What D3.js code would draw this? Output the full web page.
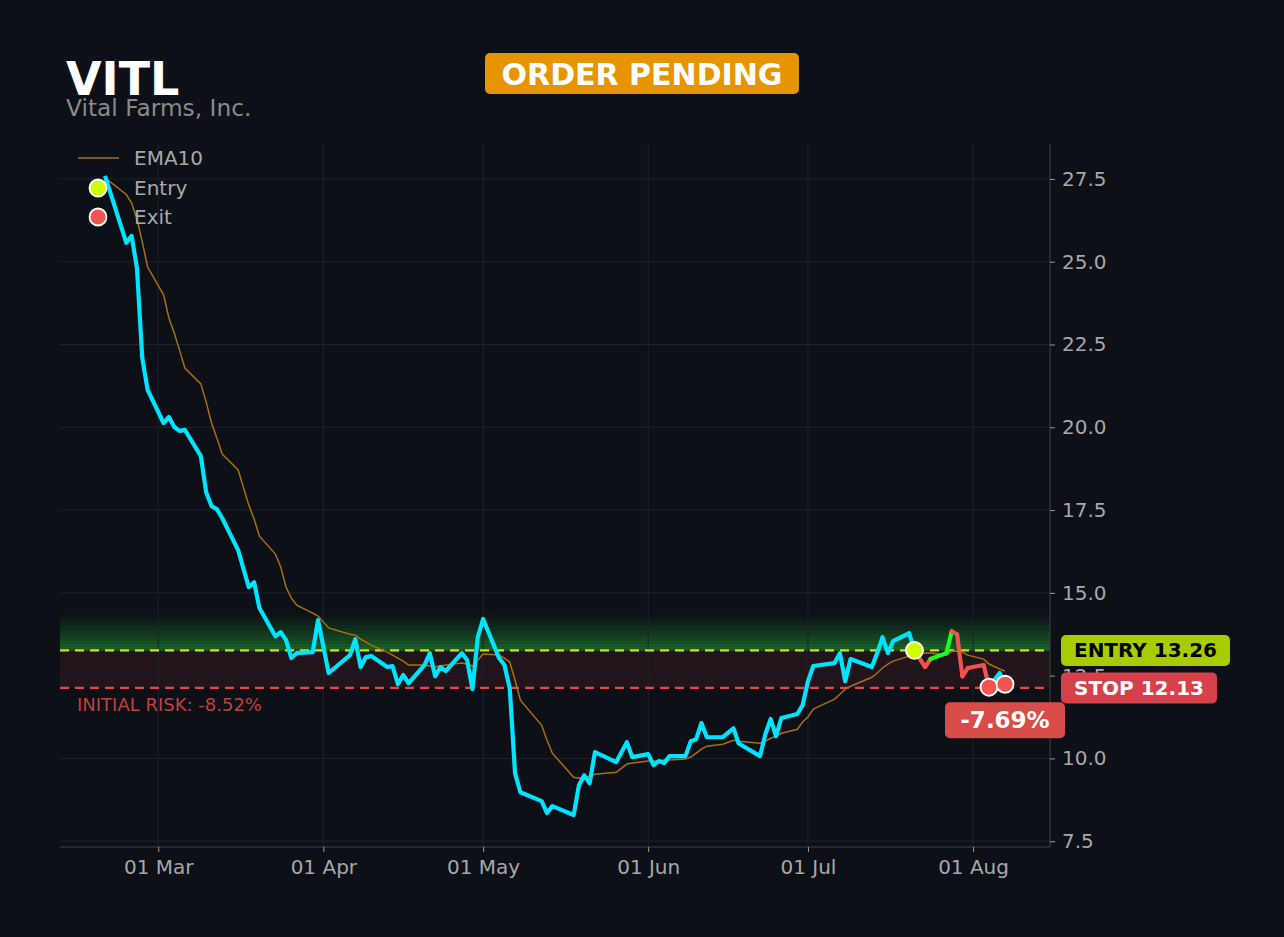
<!DOCTYPE html>
<html>
<head>
<meta charset="utf-8">
<script src="https://cdn.jsdelivr.net/npm/d3@7.9.0/dist/d3.min.js"></script>
<style>
  html, body { margin: 0; background: #0d1017; }
  svg { display: block; font-family: "DejaVu Sans", sans-serif; }
</style>
</head>
<body>
<svg id="chart" width="1284" height="937"></svg>
<script>
// Price data (daily closes)
const dates = [
  '2025-02-19','2025-02-23','2025-02-24','2025-02-25','2025-02-26','2025-02-27',
  '2025-03-02','2025-03-03','2025-03-04','2025-03-05','2025-03-06','2025-03-09','2025-03-10',
  '2025-03-11','2025-03-12','2025-03-13','2025-03-16','2025-03-18','2025-03-19','2025-03-20',
  '2025-03-23','2025-03-24','2025-03-25','2025-03-26','2025-03-27','2025-03-30','2025-03-31',
  '2025-04-02','2025-04-06','2025-04-07','2025-04-08','2025-04-09','2025-04-10','2025-04-13',
  '2025-04-14','2025-04-15','2025-04-16','2025-04-17','2025-04-20','2025-04-21','2025-04-22',
  '2025-04-23','2025-04-24','2025-04-27','2025-04-28','2025-04-29','2025-04-30',
  '2025-05-01','2025-05-04','2025-05-05','2025-05-06','2025-05-07','2025-05-08','2025-05-12',
  '2025-05-13','2025-05-14','2025-05-18','2025-05-19','2025-05-20','2025-05-21','2025-05-22',
  '2025-05-26','2025-05-28','2025-05-29',
  '2025-06-01','2025-06-02','2025-06-03','2025-06-04','2025-06-05','2025-06-08','2025-06-09',
  '2025-06-10','2025-06-11','2025-06-12','2025-06-15','2025-06-17','2025-06-18','2025-06-22',
  '2025-06-23','2025-06-24','2025-06-25','2025-06-26','2025-06-29','2025-06-30',
  '2025-07-01','2025-07-02','2025-07-06','2025-07-07','2025-07-08','2025-07-09','2025-07-13',
  '2025-07-14','2025-07-15','2025-07-16','2025-07-17','2025-07-20','2025-07-21','2025-07-23',
  '2025-07-24','2025-07-27','2025-07-28','2025-07-29','2025-07-30','2025-07-31',
  '2025-08-03','2025-08-04','2025-08-06','2025-08-07'
];
const closes = [
  27.59, 25.57, 25.78, 24.81, 22.09, 21.13, 20.13, 20.31, 20.01, 19.89,
  19.92, 19.13, 18.04, 17.62, 17.53, 17.26, 16.29, 15.17, 15.32, 14.54,
  13.69, 13.81, 13.57, 13.03, 13.18, 13.21, 14.18, 12.58, 13.12, 13.60,
  12.76, 13.06, 13.09, 12.76, 12.79, 12.24, 12.52, 12.27, 12.82, 13.18,
  12.48, 12.76, 12.64, 13.18, 12.97, 12.09, 13.66, 14.21, 13.03, 12.82,
  12.12, 9.55, 8.98, 8.71, 8.35, 8.56, 8.29, 9.19, 9.49, 9.25,
  10.19, 9.89, 10.49, 10.04, 10.13, 9.80, 9.92, 9.86, 10.07, 10.07,
  10.52, 10.58, 11.07, 10.64, 10.64, 10.91, 10.45, 10.07, 10.73, 11.19,
  10.67, 11.22, 11.34, 11.61, 12.33, 12.79, 12.88, 13.18, 12.33, 13.00,
  12.76, 13.18, 13.66, 13.18, 13.54, 13.78, 13.26, 12.76, 13.00, 13.18,
  13.84, 13.75, 12.48, 12.73, 12.82, 12.15, 12.58, 12.24
];
const ema10 = [
  27.53, 27.03, 26.77, 26.29, 25.60, 24.84, 24.00, 23.30, 22.85, 22.33,
  21.79, 21.31, 20.76, 20.13, 19.68, 19.19, 18.71, 17.65, 17.23, 16.71,
  16.17, 15.78, 15.17, 14.84, 14.63, 14.39, 14.30, 13.94, 13.75, 13.72,
  13.60, 13.51, 13.42, 13.21, 13.12, 13.03, 12.94, 12.82, 12.82, 12.79,
  12.76, 12.79, 12.82, 12.88, 12.85, 12.79, 12.97, 13.15, 13.12, 13.03,
  12.91, 12.36, 11.76, 11.00, 10.55, 10.16, 9.43, 9.40, 9.43, 9.46,
  9.52, 9.58, 9.83, 9.86, 9.92, 9.92, 9.92, 9.95, 9.95, 9.98,
  10.04, 10.16, 10.28, 10.37, 10.43, 10.55, 10.52, 10.46, 10.52, 10.61,
  10.67, 10.76, 10.88, 11.10, 11.25, 11.49, 11.79, 11.94, 12.09, 12.18,
  12.45, 12.58, 12.73, 12.85, 12.94, 13.09, 13.15, 13.18, 13.18, 13.12,
  13.24, 13.24, 13.21, 13.12, 13.00, 12.85, 12.70, 12.64
];

// Trade info
const ticker = 'VITL';
const company = 'Vital Farms, Inc.';
const status = 'ORDER PENDING';
const entryPrice = 13.26;
const stopPrice = 12.13;
const bandTop = 14.42;
const entryIndex = 96;
const exitIndices = [105, 107];
// state of each leg between entry and first exit
const tradeLegs = ['loss', 'loss', 'gain', 'gain', 'loss', 'loss', 'loss', 'loss', 'loss'];

const parseDate = d3.timeParse('%Y-%m-%d');
const data = dates.map((d, i) => ({ date: parseDate(d), close: closes[i], ema: ema10[i] }));

// Layout
const plot = { left: 60, right: 1050, top: 144, bottom: 847 };
const svg = d3.select('#chart');

svg.append('rect').attr('width', 1284).attr('height', 937).attr('fill', '#0d1017');

// Scales, 5% padding like the original
const xExt = d3.extent(data, (d) => d.date);
const xPad = (xExt[1] - xExt[0]) * 0.05;
const x = d3.scaleTime()
  .domain([new Date(+xExt[0] - xPad), new Date(+xExt[1] + xPad)])
  .range([plot.left, plot.right]);

const yExt = d3.extent(closes);
const yPad = (yExt[1] - yExt[0]) * 0.05;
const y = d3.scaleLinear()
  .domain([yExt[0] - yPad, yExt[1] + yPad])
  .range([plot.bottom, plot.top]);

const yTicks = d3.range(7.5, 27.6, 2.5);
const xTicks = d3.timeMonth.range(d3.timeMonth.ceil(x.domain()[0]), x.domain()[1]);

// Risk band (stop -> entry)
svg.append('rect')
  .attr('x', plot.left).attr('width', plot.right - plot.left)
  .attr('y', y(entryPrice)).attr('height', y(stopPrice) - y(entryPrice))
  .attr('fill', '#dc3c3c').attr('opacity', 0.1);

// Green glow above entry, stepped
const steps = 12;
const stepH = (bandTop - entryPrice) / steps;
d3.range(steps).forEach((i) => {
  const lo = entryPrice + i * stepH;
  svg.append('rect')
    .attr('x', plot.left).attr('width', plot.right - plot.left)
    .attr('y', y(lo + stepH)).attr('height', y(lo) - y(lo + stepH) + 0.3)
    .attr('fill', '#27c43a')
    .attr('opacity', 0.42 * (1 - i / steps) ** 1.3);
});

// Grid
const grid = svg.append('g').attr('stroke', '#1e2229').attr('stroke-width', 1);
yTicks.forEach((t) => {
  grid.append('line').attr('x1', plot.left).attr('x2', plot.right)
    .attr('y1', y(t)).attr('y2', y(t));
});
xTicks.forEach((t) => {
  grid.append('line').attr('x1', x(t)).attr('x2', x(t))
    .attr('y1', plot.top).attr('y2', plot.bottom);
});

// Entry / stop lines
svg.append('line')
  .attr('x1', plot.left).attr('x2', plot.right)
  .attr('y1', y(entryPrice)).attr('y2', y(entryPrice))
  .attr('stroke', '#c8e600').attr('stroke-width', 2.2).attr('stroke-dasharray', '9,6');
svg.append('line')
  .attr('x1', plot.left).attr('x2', plot.right)
  .attr('y1', y(stopPrice)).attr('y2', y(stopPrice))
  .attr('stroke', '#e0474a').attr('stroke-width', 2.2).attr('stroke-dasharray', '9,6');

// EMA line
const emaLine = d3.line().x((d) => x(d.date)).y((d) => y(d.ema));
svg.append('path').datum(data)
  .attr('d', emaLine)
  .attr('fill', 'none').attr('stroke', '#a8700e').attr('stroke-width', 1.5);

// Price line
const priceLine = d3.line().x((d) => x(d.date)).y((d) => y(d.close));
const firstExit = exitIndices[0];
svg.append('path').datum(data.slice(0, entryIndex + 1))
  .attr('d', priceLine)
  .attr('fill', 'none').attr('stroke', '#00e5ff').attr('stroke-width', 4.2)
  .attr('stroke-linejoin', 'round');
svg.append('path').datum(data.slice(firstExit))
  .attr('d', priceLine)
  .attr('fill', 'none').attr('stroke', '#00e5ff').attr('stroke-width', 4.2)
  .attr('stroke-linejoin', 'round');

const legColor = d3.scaleOrdinal().domain(['gain', 'loss']).range(['#1aff1a', '#ef5350']);
tradeLegs.forEach((state, i) => {
  const seg = data.slice(entryIndex + i, entryIndex + i + 2);
  svg.append('path').datum(seg)
    .attr('d', priceLine)
    .attr('fill', 'none').attr('stroke', legColor(state)).attr('stroke-width', 4.2)
    .attr('stroke-linecap', 'round');
});

// Markers
svg.append('circle')
  .attr('cx', x(data[entryIndex].date)).attr('cy', y(data[entryIndex].close))
  .attr('r', 8.5).attr('fill', '#ccff00').attr('stroke', '#fff').attr('stroke-width', 1.8);
exitIndices.forEach((idx) => {
  svg.append('circle')
    .attr('cx', x(data[idx].date)).attr('cy', y(data[idx].close))
    .attr('r', 8.5).attr('fill', '#f0564f').attr('stroke', '#fff').attr('stroke-width', 1.8);
});

// Spines
svg.append('line').attr('x1', plot.right).attr('x2', plot.right)
  .attr('y1', plot.top).attr('y2', plot.bottom).attr('stroke', '#3d4048');
svg.append('line').attr('x1', plot.left).attr('x2', plot.right)
  .attr('y1', plot.bottom).attr('y2', plot.bottom).attr('stroke', '#3d4048');

// Axes
const yAxis = d3.axisRight(y).tickValues(yTicks).tickFormat(d3.format('.1f'))
  .tickSize(5).tickPadding(7);
const gy = svg.append('g').attr('transform', `translate(${plot.right},0)`).call(yAxis);
const xAxis = d3.axisBottom(x).tickValues(xTicks).tickFormat(d3.timeFormat('%d %b'))
  .tickSize(5).tickPadding(8);
const gx = svg.append('g').attr('transform', `translate(0,${plot.bottom})`).call(xAxis);
[gx, gy].forEach((g) => {
  g.select('.domain').remove();
  g.selectAll('.tick line').attr('stroke', '#9a9a9a');
  g.selectAll('.tick text')
    .attr('fill', '#a8a8a8')
    .style('font-family', '"DejaVu Sans", sans-serif')
    .style('font-size', '20px');
});

// Title
svg.append('text').attr('x', 66).attr('y', 95)
  .attr('fill', '#ffffff').style('font-size', '46px').style('font-weight', 'bold')
  .text(ticker);
svg.append('text').attr('x', 66).attr('y', 116)
  .attr('fill', '#8a8a8a').style('font-size', '23.3px')
  .text(company);

// Status badge
const badge = svg.append('g');
badge.append('rect').attr('x', 485).attr('y', 53).attr('width', 314).attr('height', 41)
  .attr('rx', 5).attr('fill', '#e69500');
badge.append('text').attr('x', 642).attr('y', 84.5).attr('text-anchor', 'middle')
  .attr('fill', '#fff').style('font-size', '30px').style('font-weight', 'bold')
  .text(status);

// Legend
const legend = svg.append('g').style('font-size', '20px');
legend.append('line').attr('x1', 78).attr('x2', 119).attr('y1', 158).attr('y2', 158)
  .attr('stroke', '#a8700e').attr('stroke-width', 1.5);
legend.append('text').attr('x', 134).attr('y', 165).attr('fill', '#a8a8a8').text('EMA10');
legend.append('circle').attr('cx', 98).attr('cy', 188).attr('r', 8.5)
  .attr('fill', '#ccff00').attr('stroke', '#fff').attr('stroke-width', 1.8);
legend.append('text').attr('x', 134).attr('y', 195).attr('fill', '#a8a8a8').text('Entry');
legend.append('circle').attr('cx', 98).attr('cy', 217).attr('r', 8.5)
  .attr('fill', '#f0564f').attr('stroke', '#fff').attr('stroke-width', 1.8);
legend.append('text').attr('x', 134).attr('y', 224).attr('fill', '#a8a8a8').text('Exit');

// Initial risk text
const risk = (stopPrice - entryPrice) / entryPrice * 100;
svg.append('text').attr('x', 77).attr('y', y(stopPrice) + 23)
  .attr('fill', '#c0403f').style('font-size', '18px')
  .text(`INITIAL RISK: ${risk.toFixed(2)}%`);

// Price tags on the right
function tag(label, value, bg, fg, width) {
  const cy = y(value);
  const g = svg.append('g');
  g.append('rect').attr('x', plot.right + 11).attr('y', cy - 15.5)
    .attr('width', width).attr('height', 31).attr('rx', 5).attr('fill', bg);
  g.append('text').attr('x', plot.right + 11 + width / 2).attr('y', cy + 7)
    .attr('text-anchor', 'middle').attr('fill', fg)
    .style('font-size', '20px').style('font-weight', 'bold')
    .text(label);
}
tag(`ENTRY ${entryPrice.toFixed(2)}`, entryPrice, '#a8cc00', '#000', 169);
tag(`STOP ${stopPrice.toFixed(2)}`, stopPrice, '#d6404a', '#fff', 156);

// Current P/L tag under the last point
const last = data[data.length - 1];
const pnl = (last.close - entryPrice) / entryPrice * 100;
const px = x(last.date), py = y(last.close);
svg.append('rect').attr('x', px - 60).attr('y', py + 18).attr('width', 120).attr('height', 36)
  .attr('rx', 5).attr('fill', '#d84c4a');
svg.append('text').attr('x', px).attr('y', py + 44).attr('text-anchor', 'middle')
  .attr('fill', '#fff').style('font-size', '23px').style('font-weight', 'bold')
  .text(`${pnl.toFixed(2)}%`);
</script>
</body>
</html>
